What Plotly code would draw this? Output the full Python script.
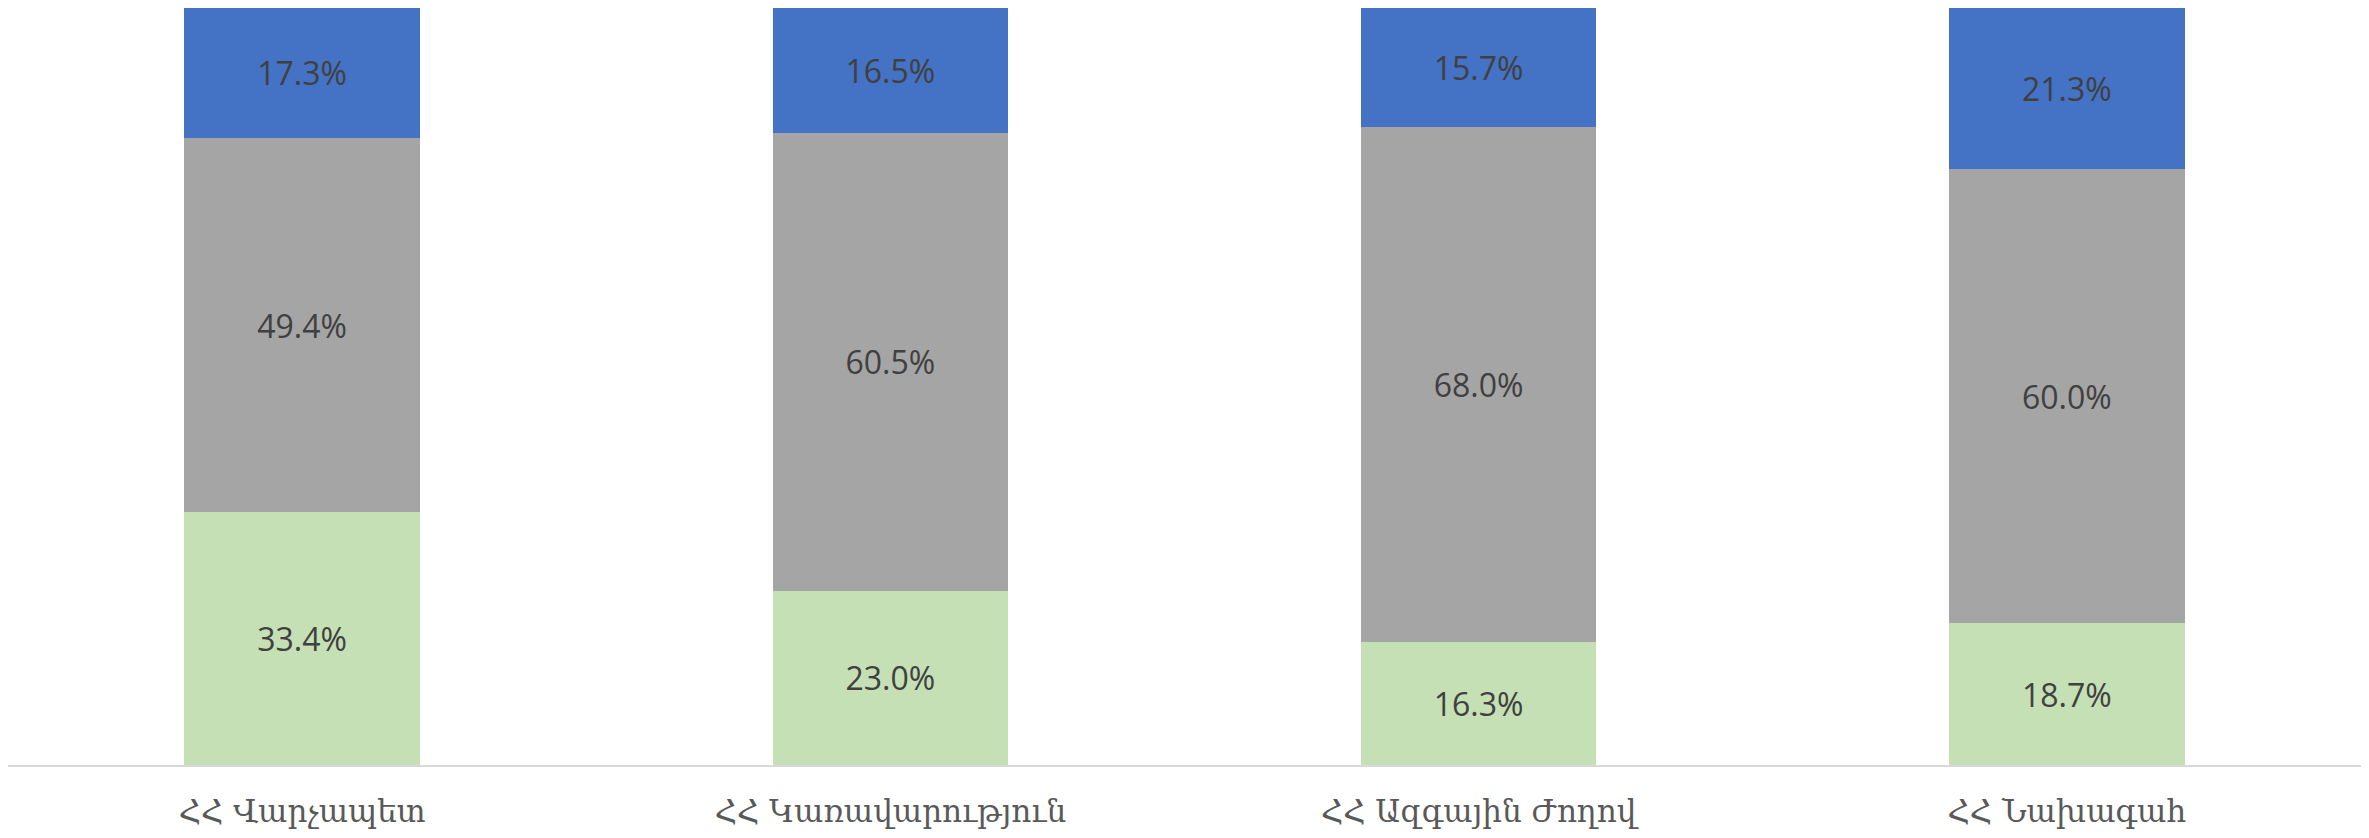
import plotly.graph_objects as go

categories = ["ՀՀ Վարչապետ", "ՀՀ Կառավարություն", "ՀՀ Ազգային Ժողով", "ՀՀ Նախագահ"]
series_names = ["green", "gray", "blue"]
green_vals = [33.4, 23.0, 16.3, 18.7]
gray_vals = [49.4, 60.5, 68.0, 60.0]
blue_vals = [17.3, 16.5, 15.7, 21.3]

colors = ["#C5E0B4", "#A5A5A5", "#4472C4"]

fig = go.Figure()
for name, vals, col in zip(series_names, [green_vals, gray_vals, blue_vals], colors):
    fig.add_trace(go.Bar(
        x=categories, y=vals, name=name,
        marker=dict(color=col, line=dict(width=0)),
        texttemplate="%{y:.1f}%",
        textposition="inside",
        insidetextanchor="middle",
        textfont=dict(size=32, color="#404040", family="Open Sans, Noto Sans, sans-serif"),
        constraintext="none",
    ))

fig.update_layout(
    barmode="stack",
    bargap=0.6,
    width=2353, height=830,
    margin=dict(l=0, r=0, t=0, b=73, autoexpand=False),
    paper_bgcolor="white", plot_bgcolor="white",
    showlegend=False,
    font=dict(family="Open Sans, Noto Sans, DejaVu Sans, sans-serif"),
)
fig.update_xaxes(
    automargin=False,
    showline=True, linecolor="#D9D9D9", linewidth=2,
    tickfont=dict(size=31, color="#595959", family="DejaVu Serif, Noto Sans, serif"),
    ticks="outside", ticklen=18, tickcolor="rgba(0,0,0,0)",
)
fig.update_yaxes(range=[0, 100], visible=False, showgrid=False)

fig.write_html("out.html")
